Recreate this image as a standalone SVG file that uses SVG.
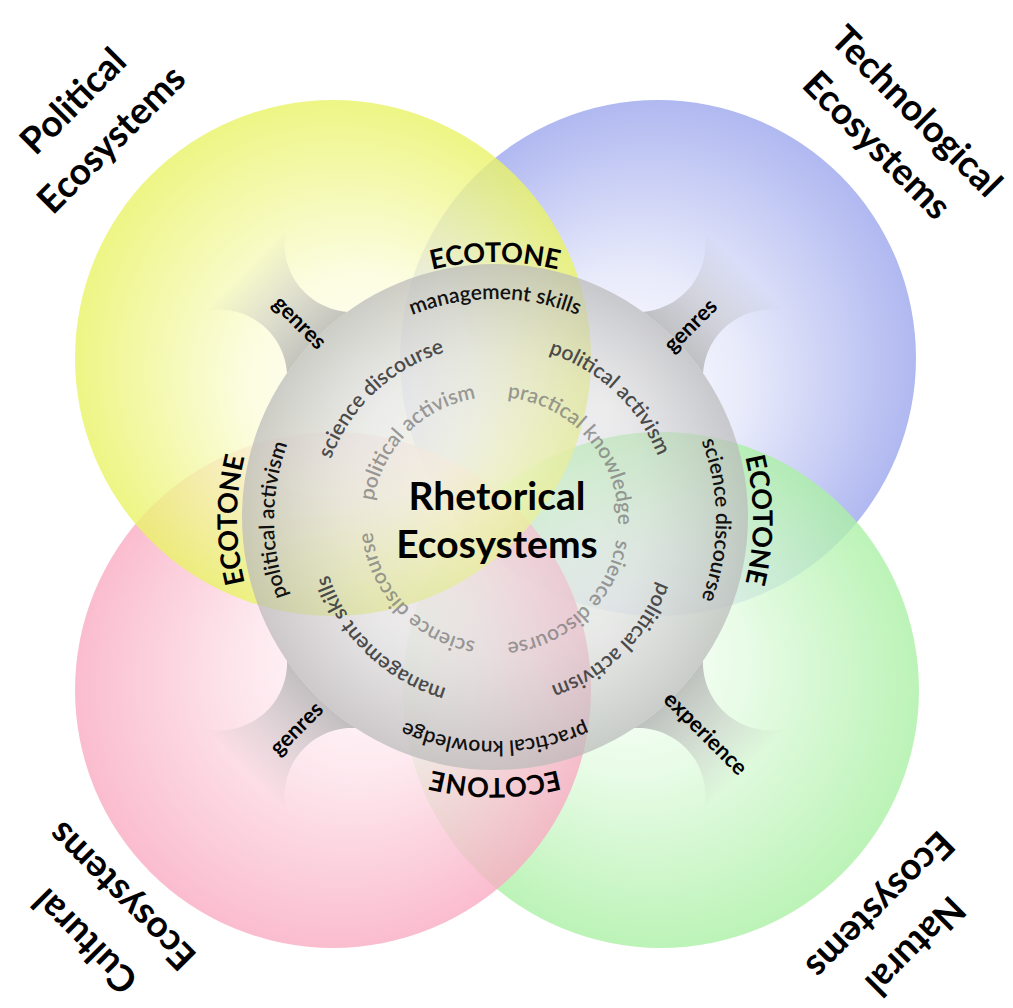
<svg xmlns="http://www.w3.org/2000/svg" xmlns:xlink="http://www.w3.org/1999/xlink" width="1013" height="1008" viewBox="0 0 1013 1008">
  <style>
    .lbl { font-family: "Lato", "Open Sans", sans-serif; font-weight: 700; fill: #000; }
    .corner { font-size: 37px; text-anchor: middle; }
    .eco { font-size: 27px; }
    .ring { font-family: "Lato", "Open Sans", sans-serif; font-size: 21px; font-weight: 600; }
    .outer { fill: #111; }
    .mid { fill: #4a4a4a; }
    .inner { fill: #777; fill-opacity: 0.72; }
    .funnel-txt { font-size: 22px; text-anchor: middle; }
    .center-txt { font-size: 39px; text-anchor: middle; }
  </style>
  <defs>
    <radialGradient id="gYellow" cx="0.5" cy="0.5" r="0.5" fx="0.6" fy="0.6">
      <stop offset="0" stop-color="#ffffff"/>
      <stop offset="0.45" stop-color="#fbfcd8"/>
      <stop offset="1" stop-color="#e9f366"/>
    </radialGradient>
    <radialGradient id="gBlue" cx="0.5" cy="0.5" r="0.5" fx="0.4" fy="0.6">
      <stop offset="0" stop-color="#ffffff"/>
      <stop offset="0.45" stop-color="#e4e7fa"/>
      <stop offset="1" stop-color="#a2acee"/>
    </radialGradient>
    <radialGradient id="gPink" cx="0.5" cy="0.5" r="0.5" fx="0.6" fy="0.4">
      <stop offset="0" stop-color="#ffffff"/>
      <stop offset="0.45" stop-color="#fde2ea"/>
      <stop offset="1" stop-color="#f9acc3"/>
    </radialGradient>
    <radialGradient id="gGreen" cx="0.5" cy="0.5" r="0.5" fx="0.4" fy="0.4">
      <stop offset="0" stop-color="#ffffff"/>
      <stop offset="0.45" stop-color="#e2fbe0"/>
      <stop offset="1" stop-color="#abf0a5"/>
    </radialGradient>
    <radialGradient id="gCore" cx="0.5" cy="0.5" r="0.5" fx="0.5" fy="0.45">
      <stop offset="0" stop-color="#f2f2f2" stop-opacity="0.35"/>
      <stop offset="0.6" stop-color="#d8d8d8" stop-opacity="0.5"/>
      <stop offset="1" stop-color="#bababa" stop-opacity="0.72"/>
    </radialGradient>
    <linearGradient id="gFunnel" gradientUnits="userSpaceOnUse" x1="240" y1="0" x2="355" y2="0">
      <stop offset="0" stop-color="#a8a8a8" stop-opacity="0.75"/>
      <stop offset="1" stop-color="#a8a8a8" stop-opacity="0"/>
    </linearGradient>
    <!-- everything outside the central circle -->
    <clipPath id="outsideCore">
      <path clip-rule="evenodd" d="M0 0H1013V1008H0Z M242 517A253 253 0 1 0 748 517A253 253 0 1 0 242 517Z"/>
    </clipPath>
    <!-- concave funnel pointing along +x from the centre -->
    <path id="funnel" d="M225 -72 L235 -64 A68 68 0 0 0 352 -56 L352 56 A68 68 0 0 0 235 64 L225 72 Z"/>
    <!-- clockwise text circles around (495,520); A starts at the left, B at the right -->
    <path id="ecoA" d="M237 520A258 258 0 1 1 753 520A258 258 0 1 1 237 520"/>
    <path id="ecoB" d="M753 520A258 258 0 1 1 237 520A258 258 0 1 1 753 520"/>
    <path id="outA" d="M274 520A221 221 0 1 1 716 520A221 221 0 1 1 274 520"/>
    <path id="outB" d="M716 520A221 221 0 1 1 274 520A221 221 0 1 1 716 520"/>
    <path id="midA" d="M320 520A175 175 0 1 1 670 520A175 175 0 1 1 320 520"/>
    <path id="midB" d="M670 520A175 175 0 1 1 320 520A175 175 0 1 1 670 520"/>
    <path id="innA" d="M372 520A123 123 0 1 1 618 520A123 123 0 1 1 372 520"/>
    <path id="innB" d="M618 520A123 123 0 1 1 372 520A123 123 0 1 1 618 520"/>
  </defs>

  <rect width="1013" height="1008" fill="#ffffff"/>

  <!-- the four surrounding ecosystems -->
  <g id="technological" opacity="0.85">
    <circle cx="658" cy="358" r="258" fill="url(#gBlue)"/>
  </g>
  <g id="natural" opacity="0.8">
    <circle cx="661" cy="690" r="258" fill="url(#gGreen)"/>
  </g>
  <g id="cultural" opacity="0.8">
    <circle cx="333" cy="690" r="258" fill="url(#gPink)"/>
  </g>
  <g id="political" opacity="0.8">
    <circle cx="333" cy="358" r="258" fill="url(#gYellow)"/>
  </g>

  <!-- connectors: funnels between the core and each ecosystem -->
  <g id="connectors" clip-path="url(#outsideCore)">
    <use xlink:href="#funnel" fill="url(#gFunnel)" transform="translate(495 520) rotate(-135)"/>
    <use xlink:href="#funnel" fill="url(#gFunnel)" transform="translate(495 520) rotate(-45)"/>
    <use xlink:href="#funnel" fill="url(#gFunnel)" transform="translate(495 520) rotate(135)"/>
    <use xlink:href="#funnel" fill="url(#gFunnel)" transform="translate(495 520) rotate(45)"/>
  </g>

  <!-- central rhetorical ecosystem -->
  <g id="rhetorical">
    <circle cx="495" cy="517" r="253" fill="url(#gCore)"/>
    <text class="lbl center-txt" x="497" y="510">Rhetorical</text>
    <text class="lbl center-txt" x="497" y="558">Ecosystems</text>
  </g>

  <!-- ecotone labels -->
  <g id="ecotones" class="lbl eco">
    <text><textPath xlink:href="#ecoA" startOffset="25%" text-anchor="middle">ECOTONE</textPath></text>
    <text><textPath xlink:href="#ecoA" startOffset="50%" text-anchor="middle">ECOTONE</textPath></text>
    <text><textPath xlink:href="#ecoA" startOffset="75%" text-anchor="middle">ECOTONE</textPath></text>
    <text><textPath xlink:href="#ecoB" startOffset="50%" text-anchor="middle">ECOTONE</textPath></text>
  </g>

  <!-- outer ring of practices -->
  <g id="ring-outer" class="ring outer">
    <text><textPath xlink:href="#outA" startOffset="25%" text-anchor="middle">management skills</textPath></text>
    <text><textPath xlink:href="#outA" startOffset="50%" text-anchor="middle">science discourse</textPath></text>
    <text><textPath xlink:href="#outA" startOffset="75%" text-anchor="middle">practical knowledge</textPath></text>
    <text><textPath xlink:href="#outB" startOffset="50%" text-anchor="middle">political activism</textPath></text>
  </g>

  <!-- middle ring -->
  <g id="ring-middle" class="ring mid">
    <text><textPath xlink:href="#midA" startOffset="13%" text-anchor="middle">science discourse</textPath></text>
    <text><textPath xlink:href="#midA" startOffset="37%" text-anchor="middle">political activism</textPath></text>
    <text><textPath xlink:href="#midA" startOffset="62.8%" text-anchor="middle">political activism</textPath></text>
    <text><textPath xlink:href="#midB" startOffset="37.2%" text-anchor="middle">management skills</textPath></text>
  </g>

  <!-- inner ring -->
  <g id="ring-inner" class="ring inner">
    <text><textPath xlink:href="#innA" startOffset="12.5%" text-anchor="middle">political activism</textPath></text>
    <text><textPath xlink:href="#innA" startOffset="38.6%" text-anchor="middle">practical knowledge</textPath></text>
    <text><textPath xlink:href="#innA" startOffset="63%" text-anchor="middle">science discourse</textPath></text>
    <text><textPath xlink:href="#innB" startOffset="38%" text-anchor="middle">science discourse</textPath></text>
  </g>

  <!-- connector labels -->
  <g id="connector-labels" class="lbl funnel-txt">
    <text transform="translate(300 322) rotate(45)" dy="8">genres</text>
    <text transform="translate(690 325) rotate(-45)" dy="8">genres</text>
    <text transform="translate(296 728) rotate(-45)" dy="8">genres</text>
    <text transform="translate(706 733) rotate(45)" dy="8">experience</text>
  </g>

  <!-- ecosystem titles -->
  <g id="title-political" class="lbl corner" transform="translate(92 120) rotate(-45)">
    <text x="0" y="-14">Political</text>
    <text x="0" y="40">Ecosystems</text>
  </g>
  <g id="title-technological" class="lbl corner" transform="translate(897 128) rotate(45)">
    <text x="2" y="-13">Technological</text>
    <text x="-2" y="39">Ecosystems</text>
  </g>
  <g id="title-cultural" class="lbl corner" transform="translate(103 919) rotate(225)">
    <text x="-3" y="-16">Cultural</text>
    <text x="3" y="42">Ecosystems</text>
  </g>
  <g id="title-natural" class="lbl corner" transform="translate(898 926) rotate(135)">
    <text x="2" y="-14">Natural</text>
    <text x="-2" y="40">Ecosystems</text>
  </g>
</svg>
